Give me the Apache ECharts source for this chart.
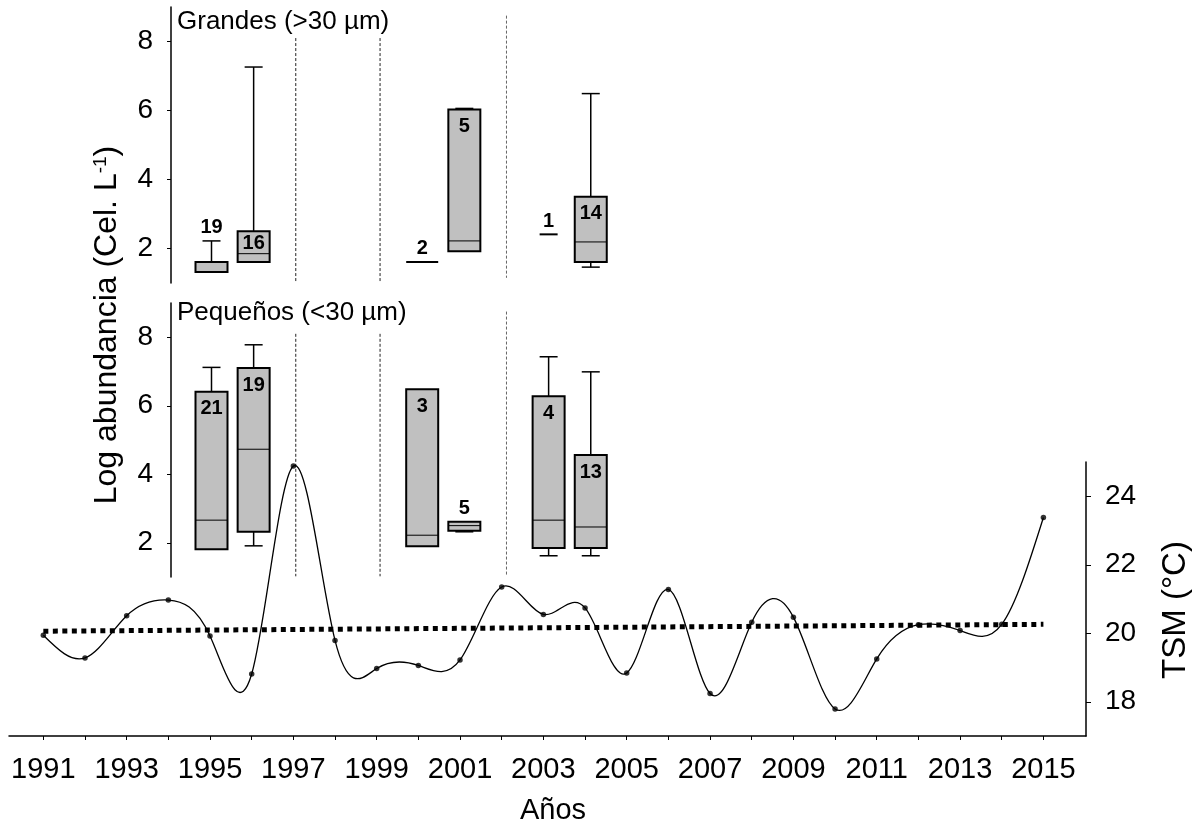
<!DOCTYPE html>
<html>
<head>
<meta charset="utf-8">
<script src="https://cdn.jsdelivr.net/npm/echarts@6/dist/echarts.min.js"></script>
<style>
  html, body { margin: 0; padding: 0; background: #fff; }
  #chart { width: 1195px; height: 828px; }
</style>
</head>
<body>
<div id="chart"></div>
<script>
// ---------- data ----------
// Sea surface temperature (TSM, °C), yearly
const tsmYears = [1991, 1992, 1993, 1994, 1995, 1996, 1997, 1998, 1999, 2000, 2001, 2002,
                  2003, 2004, 2005, 2006, 2007, 2008, 2009, 2010, 2011, 2012, 2013, 2014, 2015];
const tsmValues = [19.94, 19.28, 20.51, 20.97, 19.92, 18.81, 24.88, 19.79, 18.97, 19.06, 19.22, 21.35,
                   20.55, 20.74, 18.84, 21.28, 18.24, 20.32, 20.47, 17.79, 19.25, 20.25, 20.08, 20.26, 23.38];
// Linear trend of TSM
const trendYears = [1991, 2015];
const trendValues = [20.06, 20.26];

// Log abundance box plots: [min, Q1, median, Q3, max]
const boxYears = [1995, 1996, 2000, 2001, 2003, 2004];
const grandesStats = [
  [1.32, 1.32, 1.32, 1.61, 2.22],
  [1.61, 1.61, 1.85, 2.50, 7.26],
  [1.61, 1.61, 1.61, 1.61, 1.61],
  [1.92, 1.92, 2.22, 6.03, 6.06],
  [2.41, 2.41, 2.41, 2.41, 2.41],
  [1.46, 1.61, 2.19, 3.50, 6.49]
];
const grandesN = [19, 16, 2, 5, 1, 14];
const pequenosStats = [
  [1.81, 1.81, 2.66, 6.41, 7.12],
  [1.91, 2.32, 4.73, 7.10, 7.78],
  [1.90, 1.90, 2.22, 6.48, 6.48],
  [2.32, 2.35, 2.50, 2.61, 2.61],
  [1.62, 1.85, 2.66, 6.28, 7.43],
  [1.62, 1.85, 2.46, 4.56, 6.99]
];
const pequenosN = [21, 19, 3, 5, 4, 13];

// Period separators
const dividerYears = [1997, 1999, 2002];

// Axis ticks and labels
const yearTicks = [1991, 1992, 1993, 1994, 1995, 1996, 1997, 1998, 1999, 2000, 2001, 2002, 2003,
                   2004, 2005, 2006, 2007, 2008, 2009, 2010, 2011, 2012, 2013, 2014, 2015];
const yearLabels = [1991, 1993, 1995, 1997, 1999, 2001, 2003, 2005, 2007, 2009, 2011, 2013, 2015];
const abundanceTicks = [2, 4, 6, 8];
const tsmTicks = [18, 20, 22, 24];

// ---------- layout ----------
const FONT = '"Liberation Sans", Arial, Helvetica, sans-serif';
const RIGHT_EDGE = 1086;
// bottom (TSM) panel horizontal scale
const T_LEFT = 9, T_X1991 = 43.33, T_PX_YEAR = 41.67;
// abundance panels horizontal scale
const A_LEFT = 171, A_X1995 = 211.5, A_PX_YEAR = 42.14;
const BOX_W = 32, CAP_W = 18;

const tYear = px => 1991 + (px - T_X1991) / T_PX_YEAR;
const aYear = px => 1995 + (px - A_X1995) / A_PX_YEAR;

const chart = echarts.init(document.getElementById('chart'), null, { renderer: 'canvas' });

function boxRenderer(stats, counts) {
  return function (params, api) {
    const i = params.dataIndex;
    const yr = boxYears[i];
    const [lo, q1, med, q3, hi] = stats[i];
    const n = counts[i];
    const cx = api.coord([yr, med])[0];
    const py = v => api.coord([yr, v])[1];
    const seg = (x1, y1, x2, y2, w) => ({
      type: 'line', shape: { x1, y1, x2, y2 }, style: { stroke: '#000', lineWidth: w }
    });
    const kids = [];
    let labelY;
    if (n === 1) {
      kids.push(seg(cx - CAP_W / 2, py(med), cx + CAP_W / 2, py(med), 2));
      labelY = py(med) - 13;
    } else if (q3 === q1) {
      kids.push(seg(cx - BOX_W / 2, py(med), cx + BOX_W / 2, py(med), 2));
      labelY = py(med) - 13;
    } else {
      const top = py(q3), bot = py(q1);
      if (hi > q3) {
        kids.push(seg(cx, top, cx, py(hi), 1.5));
        kids.push(seg(cx - CAP_W / 2, py(hi), cx + CAP_W / 2, py(hi), 1.5));
      }
      if (lo < q1) {
        kids.push(seg(cx, bot, cx, py(lo), 1.5));
        kids.push(seg(cx - CAP_W / 2, py(lo), cx + CAP_W / 2, py(lo), 1.5));
      }
      kids.push({
        type: 'rect',
        shape: { x: cx - BOX_W / 2, y: top, width: BOX_W, height: bot - top },
        style: { fill: '#c0c0c0', stroke: '#000', lineWidth: 2 }
      });
      if (med > q1 && med < q3) kids.push(seg(cx - BOX_W / 2, py(med), cx + BOX_W / 2, py(med), 1));
      const h = bot - top;
      labelY = h > 25 ? top + Math.min(17, h * 0.4) : py(hi) - 13;
    }
    kids.push({
      type: 'text',
      style: {
        text: String(n), x: cx, y: labelY, align: 'center', verticalAlign: 'middle',
        font: 'bold 20px ' + FONT, fill: '#000'
      }
    });
    return { type: 'group', children: kids };
  };
}

function dividerRenderer(isTop) {
  return function (params, api) {
    const yr = dividerYears[params.dataIndex];
    const last = yr === 2002;
    const vTop = last ? 8.75 : 8.1;
    const vBot = (isTop && last) ? 1.15 : 1.02;
    const p1 = api.coord([yr, vTop]);
    const p2 = api.coord([yr, vBot]);
    return {
      type: 'line',
      shape: { x1: p1[0], y1: p1[1], x2: p2[0], y2: p2[1] },
      style: { stroke: last ? '#666' : '#222', lineWidth: 1, lineDash: [3, 2] }
    };
  };
}

// natural cubic spline through the TSM points, drawn as Bezier segments
function tsmCurve(params, api) {
  if (params.dataIndex !== 0) return null;
  const pts = tsmYears.map((yr, i) => api.coord([yr, tsmValues[i]]));
  const n = pts.length;
  const h = pts[1][0] - pts[0][0];
  const ys = pts.map(p => p[1]);
  const M = new Array(n).fill(0);
  const m = n - 2;
  const cp = new Array(m), dp = new Array(m);
  for (let k = 0; k < m; k++) {
    const i = k + 1;
    const r = 6 * (ys[i + 1] - 2 * ys[i] + ys[i - 1]) / (h * h);
    if (k === 0) { cp[0] = 1 / 4; dp[0] = r / 4; }
    else {
      const den = 4 - cp[k - 1];
      cp[k] = 1 / den;
      dp[k] = (r - dp[k - 1]) / den;
    }
  }
  for (let k = m - 1; k >= 0; k--) {
    M[k + 1] = dp[k] - (k < m - 1 ? cp[k] * M[k + 2] : 0);
  }
  let d = 'M' + pts[0][0] + ' ' + pts[0][1];
  for (let i = 0; i < n - 1; i++) {
    const [x0, y0] = pts[i], [x1, y1] = pts[i + 1];
    const hx = x1 - x0;
    const s0 = (y1 - y0) / hx - hx * (2 * M[i] + M[i + 1]) / 6;
    const s1 = (y1 - y0) / hx + hx * (M[i] + 2 * M[i + 1]) / 6;
    d += ' C' + (x0 + hx / 3) + ' ' + (y0 + s0 * hx / 3) + ' ' +
         (x1 - hx / 3) + ' ' + (y1 - s1 * hx / 3) + ' ' + x1 + ' ' + y1;
  }
  return {
    type: 'path',
    shape: { pathData: d },
    style: { stroke: '#000', fill: null, lineWidth: 1.3 }
  };
}

const axisText = size => ({ color: '#000', fontSize: size, fontFamily: FONT });

const abundanceY = idx => ({
  type: 'value', gridIndex: idx, position: 'left', min: 1, max: 9,
  axisLine: { show: true, onZero: false, lineStyle: { color: '#000', width: 1.5 } },
  axisTick: { show: true, length: 4, customValues: abundanceTicks, lineStyle: { color: '#000', width: 1 } },
  axisLabel: Object.assign({ customValues: abundanceTicks, margin: 18 }, axisText(28)),
  splitLine: { show: false }
});

const abundanceX = idx => ({
  type: 'value', gridIndex: idx, min: aYear(A_LEFT), max: aYear(RIGHT_EDGE), show: false,
  splitLine: { show: false }
});

const option = {
  animation: false,
  backgroundColor: '#fff',
  grid: [
    { left: A_LEFT, top: 7, width: RIGHT_EDGE - A_LEFT, height: 276, outerBoundsMode: 'none' },
    { left: A_LEFT, top: 303, width: RIGHT_EDGE - A_LEFT, height: 274, outerBoundsMode: 'none' },
    { left: T_LEFT, top: 462, width: RIGHT_EDGE - T_LEFT, height: 274, outerBoundsMode: 'none' }
  ],
  xAxis: [
    abundanceX(0),
    abundanceX(1),
    {
      type: 'value', gridIndex: 2, min: tYear(T_LEFT), max: tYear(RIGHT_EDGE),
      axisLine: { show: true, onZero: false, lineStyle: { color: '#000', width: 1.5 } },
      axisTick: { show: true, length: 4, customValues: yearTicks, lineStyle: { color: '#000', width: 1 } },
      axisLabel: Object.assign({ customValues: yearLabels, margin: 19, formatter: v => String(v) }, axisText(29)),
      splitLine: { show: false }
    }
  ],
  yAxis: [
    abundanceY(0),
    abundanceY(1),
    {
      type: 'value', gridIndex: 2, position: 'right', min: 17, max: 25,
      axisLine: { show: true, onZero: false, lineStyle: { color: '#000', width: 1.5 } },
      axisTick: { show: true, length: 5, customValues: tsmTicks, lineStyle: { color: '#000', width: 1 } },
      axisLabel: Object.assign({ customValues: tsmTicks, margin: 19 }, axisText(28)),
      splitLine: { show: false }
    }
  ],
  series: [
    {
      type: 'custom', xAxisIndex: 0, yAxisIndex: 0, z: 2,
      data: dividerYears.map(y => [y, 5]), renderItem: dividerRenderer(true)
    },
    {
      type: 'custom', xAxisIndex: 1, yAxisIndex: 1, z: 2,
      data: dividerYears.map(y => [y, 5]), renderItem: dividerRenderer(false)
    },
    {
      type: 'custom', name: 'Grandes', xAxisIndex: 0, yAxisIndex: 0, z: 3,
      data: boxYears.map((y, i) => [y, grandesStats[i][2]]),
      renderItem: boxRenderer(grandesStats, grandesN)
    },
    {
      type: 'custom', name: 'Pequeños', xAxisIndex: 1, yAxisIndex: 1, z: 3,
      data: boxYears.map((y, i) => [y, pequenosStats[i][2]]),
      renderItem: boxRenderer(pequenosStats, pequenosN)
    },
    {
      type: 'custom', name: 'TSM', xAxisIndex: 2, yAxisIndex: 2, z: 4,
      data: [[tsmYears[0], tsmValues[0]]], renderItem: tsmCurve, clip: false
    },
    {
      type: 'scatter', xAxisIndex: 2, yAxisIndex: 2, z: 5,
      symbol: 'circle', symbolSize: 5.5, itemStyle: { color: '#000' },
      data: tsmYears.map((y, i) => [y, tsmValues[i]])
    },
    {
      type: 'line', xAxisIndex: 2, yAxisIndex: 2, z: 6, symbol: 'none',
      lineStyle: { color: '#000', width: 5, type: [5, 4.5], cap: 'butt' },
      data: trendYears.map((y, i) => [y, trendValues[i]])
    }
  ],
  graphic: [
    {
      type: 'text', left: 177, top: 9,
      style: { text: 'Grandes (>30 µm)', font: '26px ' + FONT, fill: '#000' }
    },
    {
      type: 'text', left: 177, top: 300,
      style: { text: 'Pequeños (<30 µm)', font: '26px ' + FONT, fill: '#000' }
    },
    {
      type: 'text', x: 107, y: 325, rotation: Math.PI / 2,
      style: {
        text: 'Log abundancia (Cel. L{sup|-1})',
        font: '32px ' + FONT, fill: '#000', align: 'center', verticalAlign: 'middle',
        rich: { sup: { fontSize: 19, fontFamily: FONT, verticalAlign: 'top', fill: '#000' } }
      }
    },
    {
      type: 'text', x: 1176, y: 610, rotation: Math.PI / 2,
      style: { text: 'TSM (°C)', font: '33px ' + FONT, fill: '#000', align: 'center', verticalAlign: 'middle' }
    },
    {
      type: 'text', x: 553, y: 811,
      style: { text: 'Años', font: '29px ' + FONT, fill: '#000', align: 'center', verticalAlign: 'middle' }
    }
  ]
};

chart.setOption(option);
</script>
</body>
</html>
